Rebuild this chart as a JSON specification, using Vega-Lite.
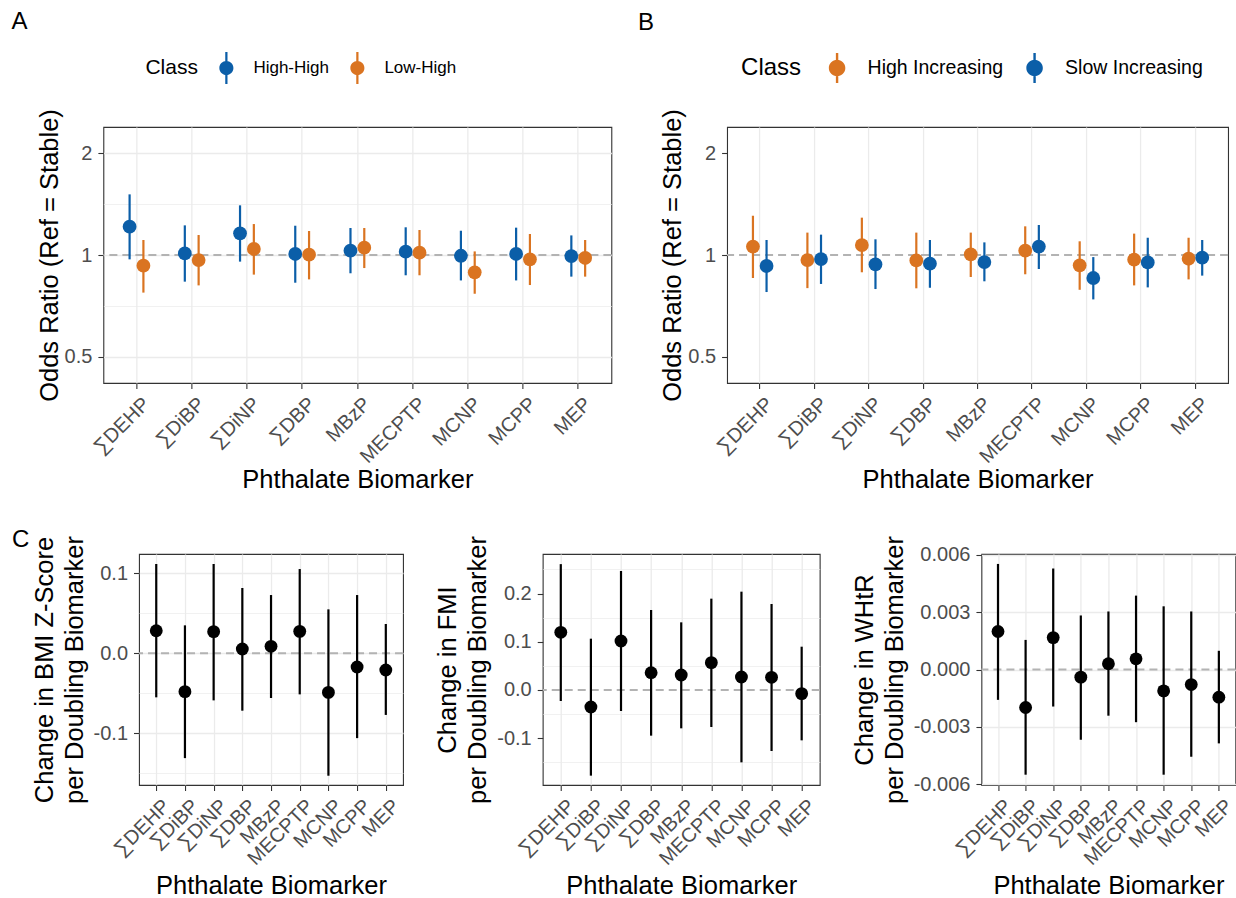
{
  "$schema": "https://vega.github.io/schema/vega-lite/v6.json",
  "padding": {"left": 10, "top": 9, "right": 2, "bottom": 2},
  "background": "white",
  "datasets": {
    "A": [
      {"b": "∑DEHP", "cls": "High-High", "est": 1.213, "lo": 0.971, "hi": 1.512},
      {"b": "∑DiBP", "cls": "High-High", "est": 1.011, "lo": 0.834, "hi": 1.224},
      {"b": "∑DiNP", "cls": "High-High", "est": 1.159, "lo": 0.956, "hi": 1.403},
      {"b": "∑DBP", "cls": "High-High", "est": 1.007, "lo": 0.828, "hi": 1.221},
      {"b": "MBzP", "cls": "High-High", "est": 1.030, "lo": 0.883, "hi": 1.202},
      {"b": "MECPTP", "cls": "High-High", "est": 1.023, "lo": 0.871, "hi": 1.208},
      {"b": "MCNP", "cls": "High-High", "est": 0.995, "lo": 0.841, "hi": 1.180},
      {"b": "MCPP", "cls": "High-High", "est": 1.007, "lo": 0.841, "hi": 1.205},
      {"b": "MEP", "cls": "High-High", "est": 0.993, "lo": 0.863, "hi": 1.143},
      {"b": "∑DEHP", "cls": "Low-High", "est": 0.930, "lo": 0.774, "hi": 1.108},
      {"b": "∑DiBP", "cls": "Low-High", "est": 0.966, "lo": 0.813, "hi": 1.146},
      {"b": "∑DiNP", "cls": "Low-High", "est": 1.042, "lo": 0.875, "hi": 1.235},
      {"b": "∑DBP", "cls": "Low-High", "est": 1.002, "lo": 0.847, "hi": 1.178},
      {"b": "MBzP", "cls": "Low-High", "est": 1.051, "lo": 0.915, "hi": 1.202},
      {"b": "MECPTP", "cls": "Low-High", "est": 1.016, "lo": 0.871, "hi": 1.186},
      {"b": "MCNP", "cls": "Low-High", "est": 0.889, "lo": 0.768, "hi": 1.025},
      {"b": "MCPP", "cls": "Low-High", "est": 0.971, "lo": 0.815, "hi": 1.154},
      {"b": "MEP", "cls": "Low-High", "est": 0.980, "lo": 0.863, "hi": 1.108}
    ],
    "B": [
      {"b": "∑DEHP", "cls": "High Increasing", "est": 1.059, "lo": 0.855, "hi": 1.307},
      {"b": "∑DiBP", "cls": "High Increasing", "est": 0.966, "lo": 0.798, "hi": 1.165},
      {"b": "∑DiNP", "cls": "High Increasing", "est": 1.070, "lo": 0.889, "hi": 1.290},
      {"b": "∑DBP", "cls": "High Increasing", "est": 0.964, "lo": 0.797, "hi": 1.165},
      {"b": "MBzP", "cls": "High Increasing", "est": 1.005, "lo": 0.861, "hi": 1.165},
      {"b": "MECPTP", "cls": "High Increasing", "est": 1.030, "lo": 0.877, "hi": 1.216},
      {"b": "MCNP", "cls": "High Increasing", "est": 0.932, "lo": 0.789, "hi": 1.098},
      {"b": "MCPP", "cls": "High Increasing", "est": 0.969, "lo": 0.813, "hi": 1.157},
      {"b": "MEP", "cls": "High Increasing", "est": 0.975, "lo": 0.847, "hi": 1.125},
      {"b": "∑DEHP", "cls": "Slow Increasing", "est": 0.928, "lo": 0.777, "hi": 1.108},
      {"b": "∑DiBP", "cls": "Slow Increasing", "est": 0.973, "lo": 0.821, "hi": 1.149},
      {"b": "∑DiNP", "cls": "Slow Increasing", "est": 0.938, "lo": 0.793, "hi": 1.113},
      {"b": "∑DBP", "cls": "Slow Increasing", "est": 0.943, "lo": 0.800, "hi": 1.108},
      {"b": "MBzP", "cls": "Slow Increasing", "est": 0.953, "lo": 0.836, "hi": 1.090},
      {"b": "MECPTP", "cls": "Slow Increasing", "est": 1.059, "lo": 0.909, "hi": 1.227},
      {"b": "MCNP", "cls": "Slow Increasing", "est": 0.855, "lo": 0.739, "hi": 0.986},
      {"b": "MCPP", "cls": "Slow Increasing", "est": 0.951, "lo": 0.802, "hi": 1.125},
      {"b": "MEP", "cls": "Slow Increasing", "est": 0.982, "lo": 0.869, "hi": 1.108}
    ],
    "bmi": [
      {"b": "∑DEHP", "est": 0.0283, "lo": -0.055, "hi": 0.1117},
      {"b": "∑DiBP", "est": -0.0479, "lo": -0.131, "hi": 0.035},
      {"b": "∑DiNP", "est": 0.0271, "lo": -0.0588, "hi": 0.1117},
      {"b": "∑DBP", "est": 0.0054, "lo": -0.0717, "hi": 0.0817},
      {"b": "MBzP", "est": 0.0088, "lo": -0.0558, "hi": 0.0729},
      {"b": "MECPTP", "est": 0.0275, "lo": -0.0513, "hi": 0.1054},
      {"b": "MCNP", "est": -0.0488, "lo": -0.153, "hi": 0.055},
      {"b": "MCPP", "est": -0.0171, "lo": -0.106, "hi": 0.0729},
      {"b": "MEP", "est": -0.0208, "lo": -0.077, "hi": 0.0367}
    ],
    "fmi": [
      {"b": "∑DEHP", "est": 0.1196, "lo": -0.0228, "hi": 0.261},
      {"b": "∑DiBP", "est": -0.0352, "lo": -0.1776, "hi": 0.1064},
      {"b": "∑DiNP", "est": 0.1016, "lo": -0.0435, "hi": 0.2467},
      {"b": "∑DBP", "est": 0.0359, "lo": -0.0947, "hi": 0.1659},
      {"b": "MBzP", "est": 0.0311, "lo": -0.0795, "hi": 0.1403},
      {"b": "MECPTP", "est": 0.0567, "lo": -0.0767, "hi": 0.1894},
      {"b": "MCNP", "est": 0.027, "lo": -0.15, "hi": 0.2039},
      {"b": "MCPP", "est": 0.0263, "lo": -0.1265, "hi": 0.1783},
      {"b": "MEP", "est": -0.0076, "lo": -0.1044, "hi": 0.0898}
    ],
    "whtr": [
      {"b": "∑DEHP", "est": 0.00199, "lo": -0.00159, "hi": 0.00553},
      {"b": "∑DiBP", "est": -0.00199, "lo": -0.00551, "hi": 0.00155},
      {"b": "∑DiNP", "est": 0.00167, "lo": -0.00194, "hi": 0.00529},
      {"b": "∑DBP", "est": -0.0004, "lo": -0.00368, "hi": 0.00283},
      {"b": "MBzP", "est": 0.0003, "lo": -0.00242, "hi": 0.00304},
      {"b": "MECPTP", "est": 0.00056, "lo": -0.00276, "hi": 0.00387},
      {"b": "MCNP", "est": -0.00112, "lo": -0.00551, "hi": 0.00331},
      {"b": "MCPP", "est": -0.00079, "lo": -0.00457, "hi": 0.00304},
      {"b": "MEP", "est": -0.00145, "lo": -0.00387, "hi": 0.00098}
    ]
  },
  "vconcat": [
    {
      "hconcat": [
        {
          "width": 508, "height": 256,
          "title": {"text": "A", "anchor": "start", "frame": "group", "dx": -92, "offset": 18},
          "layer": [
            {
              "data": {"values": [{}]},
              "mark": {"type": "rule", "strokeDash": [8, 5], "color": "#b3b3b3", "strokeWidth": 2},
              "encoding": {"y": {"datum": 1, "type": "quantitative", "scale": {"type": "log", "domain": [0.418, 2.393], "nice": false}}}
            },
            {
              "data": {"name": "A"},
              "mark": {"type": "rule", "strokeWidth": 2.2},
              "encoding": {
                "x": {"field": "b", "type": "nominal", "sort": null, "scale": {"type": "band", "paddingInner": 0.5, "paddingOuter": 0.35}},
                "xOffset": {"field": "cls", "type": "nominal", "scale": {"domain": ["High-High", "Low-High"]}},
                "y": {"field": "lo", "type": "quantitative", "scale": {"type": "log", "domain": [0.418, 2.393], "nice": false}},
                "y2": {"field": "hi"},
                "color": {"field": "cls", "type": "nominal", "scale": {"domain": ["High-High", "Low-High"], "range": ["#0B5EA8", "#DA7421"]}}
              }
            },
            {
              "data": {"name": "A"},
              "mark": {"type": "point", "filled": true, "opacity": 1, "size": 190},
              "encoding": {
                "x": {"field": "b", "type": "nominal", "sort": null, "scale": {"type": "band", "paddingInner": 0.5, "paddingOuter": 0.35},
                  "axis": {"title": "Phthalate Biomarker", "labelAngle": -45, "labelAlign": "right", "labelBaseline": "top", "bandPosition": 0.5, "labelOffset": 3, "labelPadding": 5, "titlePadding": 1}},
                "xOffset": {"field": "cls", "type": "nominal", "scale": {"domain": ["High-High", "Low-High"]}},
                "y": {"field": "est", "type": "quantitative", "scale": {"type": "log", "domain": [0.418, 2.393], "nice": false},
                  "axis": {"title": "Odds Ratio (Ref = Stable)", "values": [0.5, 0.7071, 1, 1.4142, 2],
                    "labelExpr": "abs(log(datum.value)/log(2) - round(log(datum.value)/log(2))) < 0.01 ? format(datum.value, '') : ''",
                    "gridWidth": {"condition": {"test": "abs(log(datum.value)/log(2) - round(log(datum.value)/log(2))) > 0.01", "value": 0.7}, "value": 1.3},
                    "tickOpacity": {"condition": {"test": "abs(log(datum.value)/log(2) - round(log(datum.value)/log(2))) > 0.01", "value": 0}, "value": 1},
                    "labelPadding": 6, "titlePadding": 2}},
                "color": {"field": "cls", "type": "nominal", "scale": {"domain": ["High-High", "Low-High"], "range": ["#0B5EA8", "#DA7421"]},
                  "legend": {"title": "Class", "orient": "none", "legendX": 42, "legendY": -75, "direction": "horizontal",
                    "titleOrient": "left", "titleAnchor": "middle", "titleBaseline": "middle", "titleFontSize": 21, "labelFontSize": 17,
                    "symbolType": "M0.44,0C0.44,0.243,0.243,0.44,0,0.44C-0.243,0.44,-0.44,0.243,-0.44,0C-0.44,-0.243,-0.243,-0.44,0,-0.44C0.243,-0.44,0.44,-0.243,0.44,0Z M-0.07,-1L0.07,-1L0.07,1L-0.07,1Z",
                    "symbolSize": 1024, "symbolStrokeWidth": 0, "symbolOpacity": 1, "labelOffset": 11, "titlePadding": 12, "columnPadding": 12}}
              }
            }
          ]
        },
        {
          "width": 501, "height": 256,
          "title": {"text": "B", "anchor": "start", "frame": "group", "dx": -89, "offset": 18},
          "resolve": {"axis": {"y": "independent"}},
          "layer": [
            {
              "data": {"values": [{}]},
              "mark": {"type": "rule", "strokeDash": [8, 5], "color": "#b3b3b3", "strokeWidth": 2},
              "encoding": {"y": {"datum": 1, "type": "quantitative", "scale": {"type": "log", "domain": [0.418, 2.393], "nice": false},
                "axis": {"orient": "right", "labels": false, "ticks": false, "grid": false, "domain": false, "title": "x", "titleOpacity": 0, "titleFontSize": 30, "titlePadding": 14}}}
            },
            {
              "data": {"name": "B"},
              "mark": {"type": "rule", "strokeWidth": 2.2},
              "encoding": {
                "x": {"field": "b", "type": "nominal", "sort": null, "scale": {"type": "band", "paddingInner": 0.5, "paddingOuter": 0.35}},
                "xOffset": {"field": "cls", "type": "nominal", "scale": {"domain": ["High Increasing", "Slow Increasing"]}},
                "y": {"field": "lo", "type": "quantitative", "scale": {"type": "log", "domain": [0.418, 2.393], "nice": false}, "axis": null},
                "y2": {"field": "hi"},
                "color": {"field": "cls", "type": "nominal", "scale": {"domain": ["High Increasing", "Slow Increasing"], "range": ["#DA7421", "#0B5EA8"]}}
              }
            },
            {
              "data": {"name": "B"},
              "mark": {"type": "point", "filled": true, "opacity": 1, "size": 190},
              "encoding": {
                "x": {"field": "b", "type": "nominal", "sort": null, "scale": {"type": "band", "paddingInner": 0.5, "paddingOuter": 0.35},
                  "axis": {"title": "Phthalate Biomarker", "labelAngle": -45, "labelAlign": "right", "labelBaseline": "top", "bandPosition": 0.5, "labelOffset": 3, "labelPadding": 5, "titlePadding": 1}},
                "xOffset": {"field": "cls", "type": "nominal", "scale": {"domain": ["High Increasing", "Slow Increasing"]}},
                "y": {"field": "est", "type": "quantitative", "scale": {"type": "log", "domain": [0.418, 2.393], "nice": false},
                  "axis": {"orient": "left", "title": "Odds Ratio (Ref = Stable)", "values": [0.5, 0.7071, 1, 1.4142, 2],
                    "labelExpr": "abs(log(datum.value)/log(2) - round(log(datum.value)/log(2))) < 0.01 ? format(datum.value, '') : ''",
                    "gridWidth": {"condition": {"test": "abs(log(datum.value)/log(2) - round(log(datum.value)/log(2))) > 0.01", "value": 0.7}, "value": 1.3},
                    "tickOpacity": {"condition": {"test": "abs(log(datum.value)/log(2) - round(log(datum.value)/log(2))) > 0.01", "value": 0}, "value": 1},
                    "labelPadding": 6, "titlePadding": 2}},
                "color": {"field": "cls", "type": "nominal", "scale": {"domain": ["High Increasing", "Slow Increasing"], "range": ["#DA7421", "#0B5EA8"]},
                  "legend": {"title": "Class", "orient": "none", "legendX": 14, "legendY": -74, "direction": "horizontal",
                    "titleOrient": "left", "titleAnchor": "middle", "titleBaseline": "middle", "titleFontSize": 24, "labelFontSize": 19.5,
                    "symbolType": "M0.55,0C0.55,0.304,0.304,0.55,0,0.55C-0.304,0.55,-0.55,0.304,-0.55,0C-0.55,-0.304,-0.304,-0.55,0,-0.55C0.304,-0.55,0.55,-0.304,0.55,0Z M-0.08,-1L0.08,-1L0.08,1L-0.08,1Z",
                    "symbolSize": 900, "symbolStrokeWidth": 0, "symbolOpacity": 1, "labelOffset": 15.5, "titlePadding": 20, "columnPadding": 16.5}}
              }
            }
          ]
        }
      ],
      "spacing": 115.7,
      "bounds": "flush",
      "resolve": {"scale": {"x": "independent", "y": "independent", "color": "independent", "xOffset": "independent"}, "legend": {"color": "independent"}, "axis": {"x": "independent", "y": "independent"}}
    },
    {
      "hconcat": [
        {
          "width": 264, "height": 231,
          "title": {"text": "C", "anchor": "start", "frame": "group", "dx": -127, "offset": -16},
          "layer": [
            {
              "data": {"values": [{}]},
              "mark": {"type": "rule", "strokeDash": [8, 5], "color": "#b3b3b3", "strokeWidth": 2},
              "encoding": {"y": {"datum": 0, "type": "quantitative", "scale": {"domain": [-0.1646, 0.1242], "nice": false, "zero": false}}}
            },
            {
              "data": {"name": "bmi"},
              "mark": {"type": "rule", "strokeWidth": 2.2, "color": "black"},
              "encoding": {
                "x": {"field": "b", "type": "nominal", "sort": null, "scale": {"type": "point", "padding": 0.6}},
                "y": {"field": "lo", "type": "quantitative", "scale": {"domain": [-0.1646, 0.1242], "nice": false, "zero": false}},
                "y2": {"field": "hi"}
              }
            },
            {
              "data": {"name": "bmi"},
              "mark": {"type": "point", "filled": true, "opacity": 1, "size": 165, "color": "black"},
              "encoding": {
                "x": {"field": "b", "type": "nominal", "sort": null, "scale": {"type": "point", "padding": 0.6},
                  "axis": {"title": "Phthalate Biomarker", "labelAngle": -45, "labelAlign": "right", "labelBaseline": "top", "labelOffset": 3, "labelPadding": 5, "titlePadding": 5}},
                "y": {"field": "est", "type": "quantitative", "scale": {"domain": [-0.1646, 0.1242], "nice": false, "zero": false},
                  "axis": {"title": ["Change in BMI Z-Score", "per Doubling Biomarker"], "titleLineHeight": 30, "values": [-0.15, -0.1, -0.05, 0, 0.05, 0.1],
                    "labelExpr": "abs(datum.value*10 - round(datum.value*10)) < 0.01 ? replace(format(datum.value, '.1f'), '\u2212', '-') : ''",
                    "gridWidth": {"condition": {"test": "abs(datum.value*10 - round(datum.value*10)) > 0.01", "value": 0.7}, "value": 1.3},
                    "tickOpacity": {"condition": {"test": "abs(datum.value*10 - round(datum.value*10)) > 0.01", "value": 0}, "value": 1},
                    "labelPadding": 6, "titlePadding": 6}}
              }
            }
          ]
        },
        {
          "width": 277, "height": 231,
          "resolve": {"axis": {"y": "independent"}},
          "layer": [
            {
              "data": {"values": [{}]},
              "mark": {"type": "rule", "strokeDash": [8, 5], "color": "#b3b3b3", "strokeWidth": 2},
              "encoding": {"y": {"datum": 0, "type": "quantitative", "scale": {"domain": [-0.197, 0.282], "nice": false, "zero": false},
                "axis": {"orient": "left", "values": [-0.15, -0.05, 0.05, 0.15, 0.25], "labels": false, "ticks": false, "domain": false, "title": null, "grid": true, "gridWidth": 0.7}}}
            },
            {
              "data": {"name": "fmi"},
              "mark": {"type": "rule", "strokeWidth": 2.2, "color": "black"},
              "encoding": {
                "x": {"field": "b", "type": "nominal", "sort": null, "scale": {"type": "point", "padding": 0.6}},
                "y": {"field": "lo", "type": "quantitative", "scale": {"domain": [-0.197, 0.282], "nice": false, "zero": false}, "axis": null},
                "y2": {"field": "hi"}
              }
            },
            {
              "data": {"name": "fmi"},
              "mark": {"type": "point", "filled": true, "opacity": 1, "size": 165, "color": "black"},
              "encoding": {
                "x": {"field": "b", "type": "nominal", "sort": null, "scale": {"type": "point", "padding": 0.6},
                  "axis": {"title": "Phthalate Biomarker", "labelAngle": -45, "labelAlign": "right", "labelBaseline": "top", "labelOffset": 3, "labelPadding": 5, "titlePadding": 5}},
                "y": {"field": "est", "type": "quantitative", "scale": {"domain": [-0.197, 0.282], "nice": false, "zero": false},
                  "axis": {"orient": "left", "title": ["Change in FMI", "per Doubling Biomarker"], "titleLineHeight": 30, "values": [-0.1, 0, 0.1, 0.2],
                    "labelExpr": "replace(format(datum.value, '.1f'), '\u2212', '-')",
                    "labelPadding": 6, "titlePadding": 6}}
              }
            }
          ]
        },
        {
          "width": 254, "height": 231,
          "layer": [
            {
              "data": {"values": [{}]},
              "mark": {"type": "rule", "strokeDash": [8, 5], "color": "#b3b3b3", "strokeWidth": 2},
              "encoding": {"y": {"datum": 0, "type": "quantitative", "scale": {"domain": [-0.00605, 0.00605], "nice": false, "zero": false}}}
            },
            {
              "data": {"name": "whtr"},
              "mark": {"type": "rule", "strokeWidth": 2.2, "color": "black"},
              "encoding": {
                "x": {"field": "b", "type": "nominal", "sort": null, "scale": {"type": "point", "padding": 0.6}},
                "y": {"field": "lo", "type": "quantitative", "scale": {"domain": [-0.00605, 0.00605], "nice": false, "zero": false}},
                "y2": {"field": "hi"}
              }
            },
            {
              "data": {"name": "whtr"},
              "mark": {"type": "point", "filled": true, "opacity": 1, "size": 165, "color": "black"},
              "encoding": {
                "x": {"field": "b", "type": "nominal", "sort": null, "scale": {"type": "point", "padding": 0.6},
                  "axis": {"title": "Phthalate Biomarker", "labelAngle": -45, "labelAlign": "right", "labelBaseline": "top", "labelOffset": 3, "labelPadding": 5, "titlePadding": 5}},
                "y": {"field": "est", "type": "quantitative", "scale": {"domain": [-0.00605, 0.00605], "nice": false, "zero": false},
                  "axis": {"title": ["Change in WHtR", "per Doubling Biomarker"], "titleLineHeight": 30, "values": [-0.006, -0.0045, -0.003, -0.0015, 0, 0.0015, 0.003, 0.0045, 0.006],
                    "labelExpr": "abs(datum.value*1000/3 - round(datum.value*1000/3)) < 0.01 ? replace(format(datum.value, '.3f'), '\u2212', '-') : ''",
                    "gridWidth": {"condition": {"test": "abs(datum.value*1000/3 - round(datum.value*1000/3)) > 0.01", "value": 0.7}, "value": 1.3},
                    "tickOpacity": {"condition": {"test": "abs(datum.value*1000/3 - round(datum.value*1000/3)) > 0.01", "value": 0}, "value": 1},
                    "labelPadding": 6, "titlePadding": 6}}
              }
            }
          ]
        }
      ],
      "spacing": 29.7,
      "resolve": {"scale": {"x": "independent", "y": "independent"}, "axis": {"x": "independent", "y": "independent"}}
    }
  ],
  "spacing": 33,
  "center": true,
  "resolve": {"scale": {"x": "independent", "y": "independent", "color": "independent", "xOffset": "independent"}, "legend": {"color": "independent"}, "axis": {"x": "independent", "y": "independent"}},
  "config": {
    "font": "Liberation Sans",
    "view": {"stroke": "#333333", "strokeWidth": 1.1},
    "axis": {"domain": false, "grid": true, "gridColor": "#ebebeb", "gridWidth": 1.3, "labelColor": "#4d4d4d", "labelFontSize": 20, "labelFont": "Liberation Sans",
      "tickColor": "#333333", "tickSize": 5.5, "tickWidth": 1.1, "labelPadding": 5, "titleFontSize": 25.5, "titleFontWeight": "normal", "titleColor": "#000000",
      "titleFont": "Liberation Sans", "labelFlush": false, "labelOverlap": false, "labelBound": false},
    "legend": {"labelColor": "#000000", "titleColor": "#000000", "titleFontWeight": "normal", "labelFont": "Liberation Sans", "titleFont": "Liberation Sans"},
    "title": {"fontSize": 24, "fontWeight": "normal", "font": "Liberation Sans", "color": "#000000"}
  }
}
